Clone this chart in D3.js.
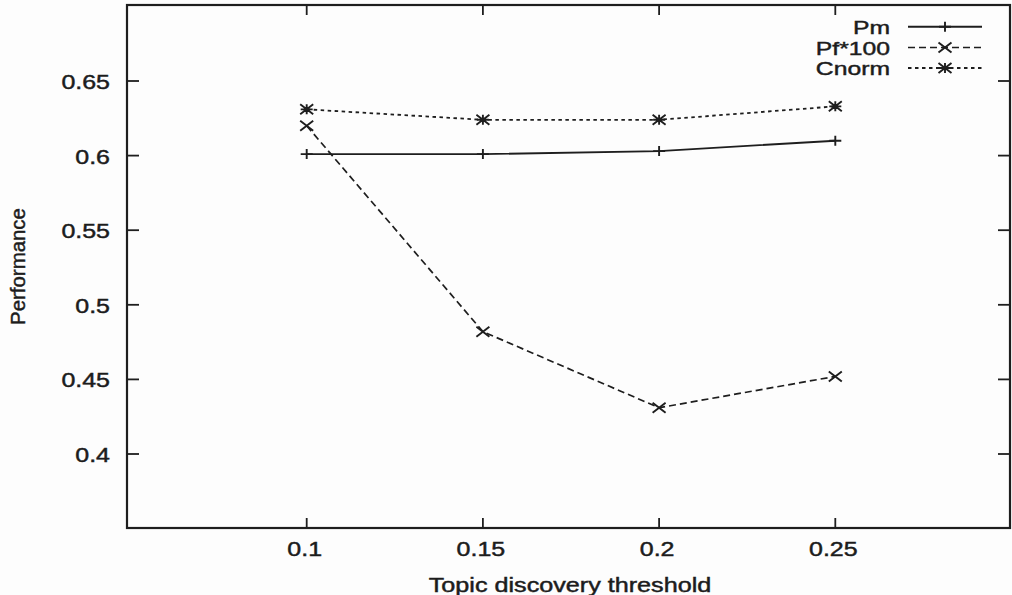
<!DOCTYPE html>
<html>
<head>
<meta charset="utf-8">
<script src="https://cdn.jsdelivr.net/npm/d3@7"></script>
<style>
  html, body { margin: 0; padding: 0; background: #fdfdfd; }
  svg { display: block; }
  text { font-family: "Liberation Sans", Arial, Helvetica, sans-serif; fill: #1c1c1c; stroke: #1c1c1c; stroke-width: 0.45px; }
</style>
</head>
<body>
<svg id="chart" width="1012" height="595"></svg>
<script>
// ---- data ----
const thresholds = [0.1, 0.15, 0.2, 0.25];
const pmValues = [0.601, 0.601, 0.603, 0.610];
const pfValues = [0.620, 0.482, 0.431, 0.452];
const cnormValues = [0.631, 0.624, 0.624, 0.633];
const seriesNames = ["Pm", "Pf*100", "Cnorm"];
const xTickValues = [0.1, 0.15, 0.2, 0.25];
const yTickValues = [0.4, 0.45, 0.5, 0.55, 0.6, 0.65];
const xTitle = "Topic discovery threshold";
const yTitle = "Performance";

// ---- layout ----
const frame = { left: 127, right: 1010, top: 5, bottom: 528 };
const ink = "#1e1e1e";
const svg = d3.select("#chart");

const x = d3.scaleLinear().domain([0.1, 0.25]).range([306.7, 835.3]);
const y = d3.scaleLinear().domain([0.4, 0.65]).range([454, 81]);

function stretch(sel, k) {
  sel.each(function () {
    const w = this.getComputedTextLength();
    d3.select(this).attr("textLength", w * k).attr("lengthAdjust", "spacingAndGlyphs");
  });
}

// frame
svg.append("rect")
  .attr("x", frame.left).attr("y", frame.top)
  .attr("width", frame.right - frame.left).attr("height", frame.bottom - frame.top)
  .attr("fill", "none").attr("stroke", ink).attr("stroke-width", 2.2);

// ticks (inward, mirrored)
const tickG = svg.append("g").attr("stroke", ink).attr("stroke-width", 1.8);
xTickValues.forEach(v => {
  tickG.append("line").attr("x1", x(v)).attr("x2", x(v)).attr("y1", frame.bottom).attr("y2", frame.bottom - 10);
  tickG.append("line").attr("x1", x(v)).attr("x2", x(v)).attr("y1", frame.top).attr("y2", frame.top + 10);
});
yTickValues.forEach(v => {
  tickG.append("line").attr("x1", frame.left).attr("x2", frame.left + 12).attr("y1", y(v)).attr("y2", y(v));
  tickG.append("line").attr("x1", frame.right).attr("x2", frame.right - 12).attr("y1", y(v)).attr("y2", y(v));
});

// tick labels
const fmt = d => String(d);
svg.append("g").selectAll("text").data(xTickValues).join("text")
  .attr("x", d => x(d) - 2).attr("y", 556)
  .attr("text-anchor", "middle").attr("font-size", 19.5)
  .text(fmt).call(stretch, 1.28);
svg.append("g").selectAll("text").data(yTickValues).join("text")
  .attr("x", 110).attr("y", d => y(d) + 8)
  .attr("text-anchor", "end").attr("font-size", 19.5)
  .text(fmt).call(stretch, 1.28);

// axis titles
svg.append("text").attr("x", 570).attr("y", 592)
  .attr("text-anchor", "middle").attr("font-size", 19.5)
  .text(xTitle).call(stretch, 1.29);
svg.append("text")
  .attr("transform", "translate(25,266.5) rotate(-90)")
  .attr("text-anchor", "middle").attr("font-size", 20)
  .text(yTitle).call(stretch, 1.02);

// markers
function plusPath(cx, cy) {
  return `M${cx - 6},${cy}H${cx + 6}M${cx},${cy - 5}V${cy + 5}`;
}
function crossPath(cx, cy) {
  return `M${cx - 6.5},${cy - 5}L${cx + 6.5},${cy + 5}M${cx - 6.5},${cy + 5}L${cx + 6.5},${cy - 5}`;
}
function starPath(cx, cy) {
  return plusPath(cx, cy) + crossPath(cx, cy);
}

const series = [
  { name: seriesNames[0], values: pmValues, dash: null, marker: plusPath, width: 1.9 },
  { name: seriesNames[1], values: pfValues, dash: "7,4", marker: crossPath, width: 1.7 },
  { name: seriesNames[2], values: cnormValues, dash: "3.5,3.5", marker: starPath, width: 1.8 }
];

const line = d3.line().x(d => x(d[0])).y(d => y(d[1]));

series.forEach(s => {
  const pts = thresholds.map((t, i) => [t, s.values[i]]);
  svg.append("path").datum(pts)
    .attr("d", line).attr("fill", "none").attr("stroke", ink)
    .attr("stroke-width", s.width).attr("stroke-dasharray", s.dash);
  svg.append("path")
    .attr("d", pts.map(p => s.marker(x(p[0]), y(p[1]))).join(""))
    .attr("fill", "none").attr("stroke", ink).attr("stroke-width", 1.9);
});

// legend
const legendY = [26.7, 47.5, 68];
series.forEach((s, i) => {
  const ly = legendY[i];
  svg.append("text").attr("x", 890).attr("y", ly + 7)
    .attr("text-anchor", "end").attr("font-size", 19)
    .text(s.name).call(stretch, 1.3);
  svg.append("line").attr("x1", 908).attr("x2", 982).attr("y1", ly).attr("y2", ly)
    .attr("stroke", ink).attr("stroke-width", s.width).attr("stroke-dasharray", s.dash);
  svg.append("path").attr("d", s.marker(945, ly))
    .attr("fill", "none").attr("stroke", ink).attr("stroke-width", 1.9);
});
</script>
</body>
</html>
